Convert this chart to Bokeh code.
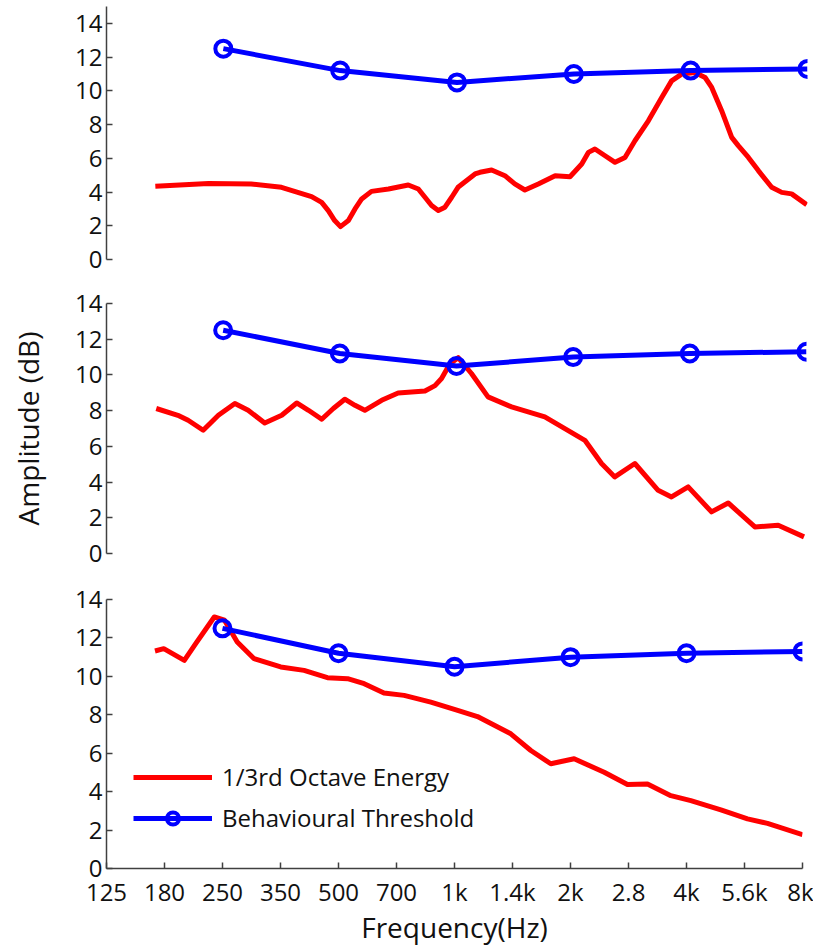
from bokeh.plotting import figure
from bokeh.layouts import column
from bokeh.models import (FixedTicker, CustomJSTickFormatter, Legend, LegendItem,
                          Range1d)
from bokeh.embed import file_html
from bokeh.resources import INLINE

# ---------------- data ----------------
x_tick_values = [125, 176.777, 250, 353.553, 500, 707.107, 1000, 1414.214,
                 2000, 2828.427, 4000, 5656.854, 8000]
x_tick_labels = ["125", "180", "250", "350", "500", "700", "1k", "1.4k",
                 "2k", "2.8", "4k", "5.6k", "8k"]
y_ticks = [0, 2, 4, 6, 8, 10, 12, 14]

thr_freq = [250, 500, 1000, 2000, 4000, 8000]
thr_vals = [12.5, 11.2, 10.5, 11.0, 11.2, 11.3]

a_freq = [167, 229, 295, 353, 422, 448, 466, 484, 501, 525, 546, 568, 602, 666,
          749, 795, 827, 860, 895, 931, 969, 1006, 1113, 1146, 1228, 1329, 1409,
          1496, 1620, 1790, 1955, 2096, 2180, 2267, 2407, 2554, 2709, 2874,
          3112, 3369, 3572, 3792, 4104, 4357, 4532, 4807, 5103, 5305, 5634,
          5976, 6468, 6866, 7282, 7962]
a_vals = [4.34, 4.51, 4.48, 4.28, 3.73, 3.39, 2.9, 2.31, 1.95, 2.31, 3.0, 3.59,
          4.04, 4.18, 4.42, 4.18, 3.69, 3.2, 2.9, 3.1, 3.69, 4.28, 5.07, 5.17,
          5.31, 4.97, 4.48, 4.12, 4.48, 4.97, 4.91, 5.66, 6.35, 6.55, 6.15,
          5.76, 6.05, 7.04, 8.22, 9.6, 10.59, 10.99, 11.08, 10.79, 10.2, 8.82,
          7.24, 6.75, 6.05, 5.27, 4.28, 3.98, 3.89, 3.25]

b_freq = [168, 191, 203, 222, 243, 268, 290, 320, 354, 387, 415, 449, 481, 515,
          547, 580, 641, 707, 829, 880, 915, 960, 1010, 1093, 1206, 1387, 1690,
          2144, 2367, 2561, 2885, 3313, 3587, 3961, 4550, 5024, 5887, 6760, 7883]
b_vals = [8.12, 7.74, 7.46, 6.9, 7.74, 8.4, 8.02, 7.31, 7.74, 8.43, 8.02, 7.52,
          8.12, 8.64, 8.3, 8.02, 8.58, 8.99, 9.1, 9.4, 9.8, 10.6, 10.97, 10.08,
          8.77, 8.21, 7.65, 6.34, 5.04, 4.29, 5.04, 3.54, 3.17, 3.73, 2.33,
          2.83, 1.49, 1.58, 0.93]

c_freq = [167, 176, 199, 213, 238, 253, 273, 302, 354, 407, 468, 528, 583, 656,
          740, 868, 1019, 1147, 1400, 1578, 1778, 2044, 2446, 2811, 3168, 3643,
          4105, 4912, 5759, 6490, 8000]
c_vals = [11.32, 11.44, 10.83, 11.7, 13.09, 12.92, 11.79, 10.92, 10.49, 10.31,
          9.93, 9.88, 9.62, 9.13, 9.01, 8.66, 8.23, 7.91, 7.01, 6.14, 5.45, 5.71,
          5.01, 4.37, 4.40, 3.79, 3.53, 3.05, 2.58, 2.35, 1.76]

legend_labels = ["1/3rd Octave Energy", "Behavioural Threshold"]

FONT = "Open Sans"
RED = "#ff0000"
BLUE = "#0000ff"
AXIS = "#404040"
TXT = "#111111"


def make_panel(left, fw, right, top, fh, bottom, ymax, freq, vals, show_x=False):
    p = figure(x_axis_type="log", x_range=Range1d(125, 8000),
               y_range=Range1d(0, ymax), frame_width=fw, frame_height=fh,
               min_border_left=left, min_border_right=right,
               min_border_top=top, min_border_bottom=bottom,
               output_backend="svg", toolbar_location=None)
    p.outline_line_color = None
    p.xgrid.visible = False
    p.ygrid.visible = False
    p.background_fill_color = "white"
    p.border_fill_color = "white"

    ya = p.yaxis[0]
    ya.ticker = FixedTicker(ticks=y_ticks)
    ya.axis_line_color = AXIS
    ya.axis_line_width = 1.5
    ya.major_tick_line_color = AXIS
    ya.major_tick_line_width = 1.5
    ya.major_tick_in = 6
    ya.major_tick_out = 0
    ya.minor_tick_line_color = None
    ya.major_label_text_font = FONT
    ya.major_label_text_font_size = "24px"
    ya.major_label_text_color = TXT
    ya.major_label_standoff = 4

    xa = p.xaxis[0]
    if show_x:
        xa.ticker = FixedTicker(ticks=x_tick_values)
        xa.formatter = CustomJSTickFormatter(
            args=dict(tv=x_tick_values, lbls=x_tick_labels),
            code="""
            let best = 0;
            for (let i = 0; i < tv.length; i++) {
              if (Math.abs(Math.log(tv[i] / tick)) < Math.abs(Math.log(tv[best] / tick))) best = i;
            }
            return lbls[best];
            """)
        xa.axis_line_color = AXIS
        xa.axis_line_width = 1.5
        xa.major_tick_line_color = AXIS
        xa.major_tick_line_width = 1.5
        xa.major_tick_in = 6
        xa.major_tick_out = 0
        xa.minor_tick_line_color = None
        xa.major_label_text_font = FONT
        xa.major_label_text_font_size = "24px"
        xa.major_label_text_color = TXT
        xa.major_label_standoff = 6
        xa.axis_label = "Frequency(Hz)"
        xa.axis_label_text_font = FONT
        xa.axis_label_text_font_size = "28px"
        xa.axis_label_text_font_style = "normal"
        xa.axis_label_text_color = TXT
        xa.axis_label_standoff = -3
    else:
        xa.visible = False

    r_red = p.line(freq, vals, line_color=RED, line_width=5, line_join="round")
    r_blue = p.line(thr_freq, thr_vals, line_color=BLUE, line_width=5)
    r_mark = p.scatter(thr_freq, thr_vals, marker="circle", size=16,
                       line_color=BLUE, line_width=4, fill_color=None)
    return p, r_red, r_blue, r_mark


p1, _, _, _ = make_panel(102, 701, 10, 6, 253, 24, 15, a_freq, a_vals)
p2, _, _, _ = make_panel(99, 700, 14, 20, 250, 24, 14, b_freq, b_vals)
p2.yaxis[0].axis_label = "Amplitude (dB)"
p2.yaxis[0].axis_label_text_font = FONT
p2.yaxis[0].axis_label_text_font_size = "28px"
p2.yaxis[0].axis_label_text_font_style = "normal"
p2.yaxis[0].axis_label_text_color = TXT
p2.yaxis[0].axis_label_standoff = 25

p3, red3, blue3, mark3 = make_panel(106, 696, 11, 22, 269, 75, 14, c_freq, c_vals,
                                    show_x=True)

legend = Legend(items=[LegendItem(label=legend_labels[0], renderers=[red3]),
                       LegendItem(label=legend_labels[1], renderers=[blue3, mark3])],
                location=(27, 34), orientation="vertical",
                glyph_width=79, glyph_height=30, label_height=30, spacing=8,
                label_standoff=10, padding=0, margin=0,
                border_line_color=None, background_fill_alpha=0,
                label_text_font=FONT, label_text_font_size="24px",
                label_text_color=TXT)
p3.add_layout(legend)

layout = column(p1, p2, p3, spacing=0)
open("out.html", "w").write(file_html(layout, INLINE))
